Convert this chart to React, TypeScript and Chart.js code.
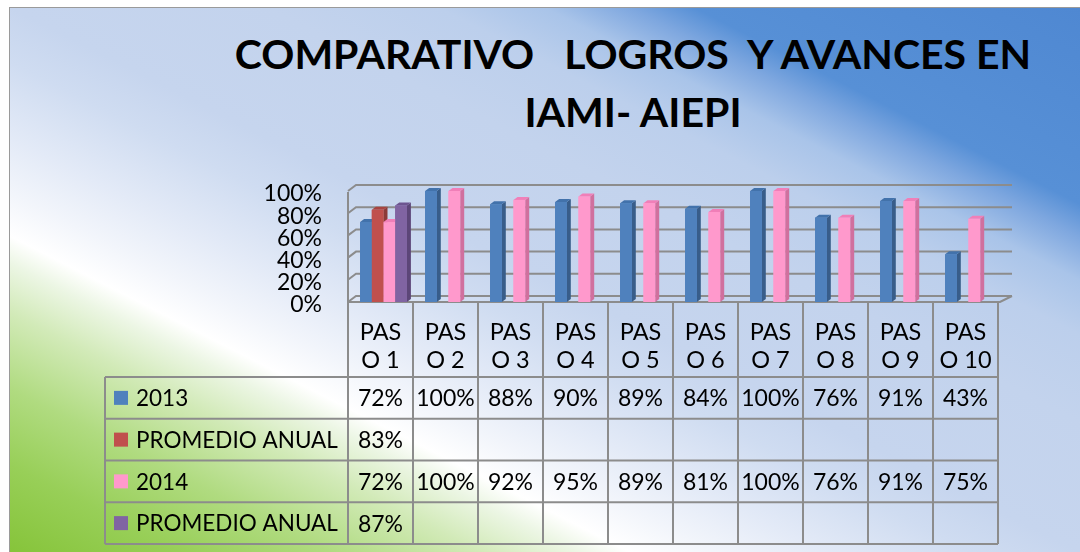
import { useEffect, useRef } from "react";
import { Chart, registerables } from "chart.js";

Chart.register(...registerables);

// ---------- data ----------
const categories: string[][] = [
  ["PAS", "O 1"], ["PAS", "O 2"], ["PAS", "O 3"], ["PAS", "O 4"], ["PAS", "O 5"],
  ["PAS", "O 6"], ["PAS", "O 7"], ["PAS", "O 8"], ["PAS", "O 9"], ["PAS", "O 10"],
];
const values2013: (number | null)[] = [72, 100, 88, 90, 89, 84, 100, 76, 91, 43];
const promedio2013: (number | null)[] = [83, null, null, null, null, null, null, null, null, null];
const values2014: (number | null)[] = [72, 100, 92, 95, 89, 81, 100, 76, 91, 75];
const promedio2014: (number | null)[] = [87, null, null, null, null, null, null, null, null, null];
const seriesNames = ["2013", "PROMEDIO ANUAL", "2014", "PROMEDIO ANUAL"];
const yTicks = [0, 20, 40, 60, 80, 100];
const titleLines = ["COMPARATIVO   LOGROS  Y AVANCES EN", "IAMI- AIEPI"];

// ---------- styles ----------
const frontColors = ["#4f81bd", "#c0504d", "#ff99cc", "#8064a2"];
const sideColors = ["#385d8a", "#8c3a38", "#d0709e", "#5c4678"];
const topColors = ["#4272ab", "#a84441", "#f07fb8", "#6d5590"];
const gridColor = "#8c8c8c";
const FONT = "Lato, 'Open Sans', sans-serif";

const allSeries = [values2013, promedio2013, values2014, promedio2014];

const threeD = {
  id: "threeD",
  beforeDatasetsDraw(chart: any) {
    const { ctx, chartArea, scales } = chart;
    const { left, right, bottom } = chartArea;
    const y = scales.y;
    const DX = 8, DY = -6;
    ctx.save();
    ctx.strokeStyle = gridColor;
    ctx.lineWidth = 2;
    ctx.beginPath();
    ctx.moveTo(left, y.getPixelForValue(100) + 1);
    ctx.lineTo(left, bottom);
    ctx.stroke();
    for (const v of yTicks) {
      const py = y.getPixelForValue(v);
      ctx.beginPath();
      ctx.moveTo(left, py);
      ctx.lineTo(left + DX, py + DY);
      ctx.lineTo(right + 14, py + DY);
      ctx.stroke();
    }
    ctx.beginPath();
    ctx.moveTo(left, bottom);
    ctx.lineTo(right + 2, bottom);
    ctx.lineTo(right + 14, bottom + DY);
    ctx.stroke();
    ctx.restore();
    ctx.save();
    ctx.translate(3, 0);
  },
  afterDatasetsDraw(chart: any) {
    const { ctx } = chart;
    const n = categories.length;
    const d = 4, e = 3;
    for (let i = 0; i < n; i++) {
      for (let s = 0; s < chart.data.datasets.length; s++) {
        const v = chart.data.datasets[s].data[i];
        if (v == null) continue;
        const el = chart.getDatasetMeta(s).data[i];
        const { x, y, width, base } = el.getProps(["x", "y", "width", "base"], true);
        const l = x - width / 2, r = x + width / 2;
        ctx.fillStyle = sideColors[s];
        ctx.beginPath();
        ctx.moveTo(r, y); ctx.lineTo(r + d, y - e); ctx.lineTo(r + d, base - e); ctx.lineTo(r, base);
        ctx.closePath(); ctx.fill();
        ctx.fillStyle = topColors[s];
        ctx.beginPath();
        ctx.moveTo(l, y); ctx.lineTo(l + d, y - e); ctx.lineTo(r + d, y - e); ctx.lineTo(r, y);
        ctx.closePath(); ctx.fill();
        ctx.fillStyle = frontColors[s];
        ctx.fillRect(l, y, width, base - y);
      }
    }
    ctx.restore();
  },
  afterDraw(chart: any) {
    const { ctx, chartArea, scales } = chart;
    const x = scales.x;
    const n = categories.length;
    const half = (x.getPixelForValue(1) - x.getPixelForValue(0)) / 2;
    const tableTop = x.bottom;
    const tableBottom = chart.height - 8;
    const rowH = (tableBottom - tableTop) / allSeries.length;
    const tableLeft = 105;
    const tableRight = x.getPixelForValue(n - 1) + half;
    ctx.save();
    ctx.strokeStyle = gridColor;
    ctx.lineWidth = 2;
    for (let r = 0; r <= allSeries.length; r++) {
      const yy = tableTop + r * rowH;
      ctx.beginPath(); ctx.moveTo(tableLeft, yy); ctx.lineTo(tableRight, yy); ctx.stroke();
    }
    ctx.beginPath(); ctx.moveTo(tableLeft, tableTop); ctx.lineTo(tableLeft, tableBottom); ctx.stroke();
    for (let i = 0; i <= n; i++) {
      const xx = i < n ? x.getPixelForValue(i) - half : tableRight;
      ctx.beginPath(); ctx.moveTo(xx, chartArea.bottom); ctx.lineTo(xx, tableBottom); ctx.stroke();
    }
    ctx.textBaseline = "middle";
    for (let r = 0; r < allSeries.length; r++) {
      const cy = tableTop + (r + 0.5) * rowH;
      ctx.fillStyle = frontColors[r];
      ctx.fillRect(114, cy - 7, 14, 14);
      ctx.fillStyle = "#000";
      ctx.textAlign = "left";
      ctx.font = `22.5px ${FONT}`;
      ctx.fillText(seriesNames[r], 136, cy + 1);
      ctx.textAlign = "center";
      ctx.font = `23px ${FONT}`;
      allSeries[r].forEach((v, i) => {
        if (v == null) return;
        ctx.fillText(`${v}%`, x.getPixelForValue(i), cy + 1);
      });
    }
    ctx.restore();
  },
};

export default function App() {
  const canvasRef = useRef<HTMLCanvasElement>(null);
  useEffect(() => {
    document.body.style.margin = "0";
    const canvas = canvasRef.current!;
    const chart = new Chart(canvas, {
      type: "bar",
      data: {
        labels: categories,
        datasets: allSeries.map((data, s) => ({
          label: seriesNames[s],
          data,
          backgroundColor: frontColors[s],
          borderWidth: 0,
          categoryPercentage: 0.72,
          barPercentage: 1,
        })),
      },
      options: {
        responsive: false,
        animation: false,
        devicePixelRatio: 1,
        layout: { padding: { left: 0, right: 82, top: 191, bottom: 175 } },
        plugins: { legend: { display: false }, tooltip: { enabled: false }, title: { display: false } },
        scales: {
          x: {
            grid: { display: false, drawTicks: false },
            border: { display: false },
            ticks: { color: "#000", font: { family: FONT, size: 23.5, lineHeight: 1.2 }, padding: 16, maxRotation: 0, autoSkip: false },
            afterFit: (scale: any) => { scale.height = 75; },
          },
          y: {
            min: 0,
            max: 100,
            grid: { display: false, drawTicks: false },
            border: { display: false },
            ticks: {
              stepSize: 20,
              autoSkip: false,
              color: "#000",
              font: { family: FONT, size: 23 },
              padding: 26,
              labelOffset: 3,
              callback: (v: any) => `${v}%`,
            },
            afterFit: (scale: any) => { scale.width = 348; },
          },
        },
      },
      plugins: [threeD],
    });
    return () => chart.destroy();
  }, []);

  const grad =
    "linear-gradient(27deg, #86c43a 0%, #98cf58 8%, #b0db80 15%, #d2eab8 22%, #ecf6e4 26.5%, #ffffff 29%, #f2f5fb 33%, #e3eaf7 38%, #cfdcf1 45%, #c6d5ee 50%, #c3d3ed 62%, #bccfec 70%, #a9c4e9 75%, #7ea7df 79%, #5790d6 82%, #4f88d2 100%)";

  return (
    <div style={{ position: "relative", width: 1080, height: 552, background: "#fff", overflow: "hidden" }}>
      <div
        style={{
          position: "absolute", left: 9, top: 7, right: 0, bottom: 0,
          borderLeft: "1px solid #9a9a9a", borderTop: "1px solid #9a9a9a", background: grad,
        }}
      />
      <div
        style={{
          position: "absolute", left: 186, width: 894, top: 25, textAlign: "center",
          fontFamily: FONT, fontWeight: 700, fontSize: 41, lineHeight: "58px", whiteSpace: "pre", color: "#000",
        }}
      >
        {titleLines.map((t, i) => <div key={i}>{t}</div>)}
      </div>
      <canvas ref={canvasRef} width={1080} height={552} style={{ position: "absolute", left: 0, top: 0 }} />
    </div>
  );
}
